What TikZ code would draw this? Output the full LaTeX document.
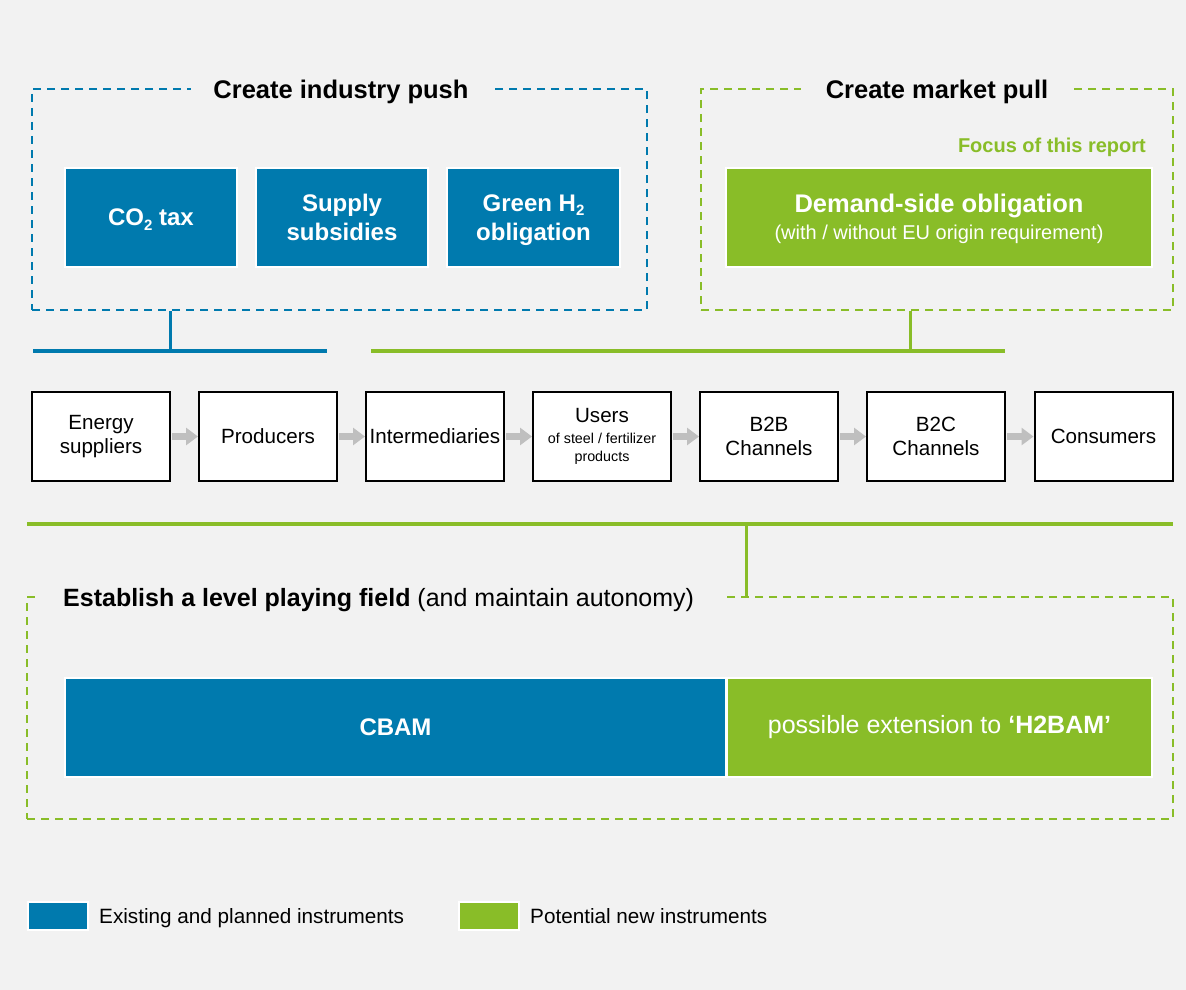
\documentclass[tikz,border=0pt]{standalone}
\usepackage{fontspec}
\setmainfont{Liberation Sans}
\usetikzlibrary{arrows.meta}
\definecolor{bg}{HTML}{F2F2F2}
\definecolor{cblue}{HTML}{007AAE}
\definecolor{cgreen}{HTML}{89BD28}
\definecolor{cgray}{HTML}{BFBFBF}
\newcommand\fsz[2]{\fontsize{#1}{#2}\selectfont}
\newcommand\lowsub[1]{\raisebox{-0.35ex}{\fsz{15}{15}#1}}
\newcommand\dropby[2]{\raisebox{-#1}[\height][\depth]{\begin{tabular}{@{}c@{}}#2\end{tabular}}}
\begin{document}
\begin{tikzpicture}[x=1pt,y=-1pt,
  instr/.style={draw=white, line width=2pt, minimum height=99pt, inner sep=0pt,
    align=center, text=white, font=\bfseries\fsz{24}{29}},
  bluebox/.style={instr, fill=cblue},
  greenbox/.style={instr, fill=cgreen},
  dashbox/.style={dashed, dash pattern=on 8pt off 6pt, line width=1.6pt, inner sep=0pt},
  title/.style={fill=bg, inner ysep=2pt, font=\bfseries\fsz{25.5}{29}},
  chainbox/.style={draw=black, fill=white, line width=2pt, minimum width=138pt,
    minimum height=89pt, inner sep=0pt, align=center, font=\fsz{20.6}{24.5}},
  flow/.style={cgray, line width=7pt, -{Triangle[length=12pt,width=17pt]}, shorten <=1pt},
  bar/.style={line width=4pt},
  stem/.style={line width=3pt},
  legbox/.style={draw=white, line width=2pt, minimum width=60pt, minimum height=28pt, inner sep=0pt},
  legtext/.style={anchor=base west, inner sep=0pt, font=\fsz{20.7}{24}}]
\fill[bg] (0,0) rectangle (1186,990);
\useasboundingbox (0,0) rectangle (1186,990);

% dashed groups
\node[dashbox, draw=cblue, minimum width=615pt, minimum height=221pt] (push) at (339.5,199.5) {};
\node[title, inner xsep=22pt] (pushT) at (341,91.5) {Create industry push};
\node[dashbox, draw=cgreen, minimum width=472pt, minimum height=221pt] (pull) at (937,199.5) {};
\node[title, inner xsep=25pt] (pullT) at (937,91.5) {Create market pull};
\node[dashbox, draw=cgreen, minimum width=1146pt, minimum height=222pt] (level) at (600,708) {};
\node[fill=bg, anchor=west, inner xsep=28pt, inner ysep=2pt, font=\fsz{25}{29}] (levelT) at (35,600)
  {\textbf{Establish a level playing field} (and maintain autonomy)};

% instruments
\node[bluebox, minimum width=172pt] (co2) at (151,217.5) {\dropby{2.5pt}{CO\lowsub{2} tax}};
\node[bluebox, minimum width=172pt] (subs) at (342,217.5) {\dropby{2.5pt}{Supply\\subsidies}};
\node[bluebox, minimum width=173pt] (gh2) at (533.5,217.5) {\dropby{2.5pt}{Green H\lowsub{2}\\obligation}};
\node[anchor=east, inner sep=0pt, text=cgreen, font=\bfseries\fsz{20}{24}] (focus) at (1146,147) {Focus of this report};
\node[greenbox, minimum width=426pt] (dso) at (939,217.5)
  {\dropby{2.5pt}{\fsz{25.5}{29}Demand-side obligation\\[-2pt]{\mdseries\fsz{20}{22}(with / without EU origin requirement)}}};
\node[bluebox, minimum width=661pt] (cbam) at (395.5,727.5) {CBAM};
\node[greenbox, minimum width=425pt, font=\fsz{25}{29}] (h2bam) at (939.5,727.5)
  {possible extension to \textbf{‘H2BAM’}};

% value chain
\node[chainbox] (c1) at (101,436.5) {Energy\\suppliers};
\node[chainbox] (c2) at (268,436.5) {Producers};
\node[chainbox] (c3) at (435,436.5) {Intermediaries};
\node[chainbox] (c4) at (602,436.5) {Users\\[-4pt]{\fsz{14.3}{17}of steel / fertilizer}\\[-6pt]{\fsz{14.3}{17}products}};
\node[chainbox] (c5) at (769,436.5) {B2B\\Channels};
\node[chainbox] (c6) at (936,436.5) {B2C\\Channels};
\node[chainbox] (c7) at (1103.5,436.5) {Consumers};
\foreach \a/\b in {c1/c2,c2/c3,c3/c4,c4/c5,c5/c6,c6/c7}
  \draw[flow] (\a.east) -- (\b.west);

% connectors / bars
\coordinate (bl) at (33,351);
\coordinate (br) at (327,351);
\coordinate (bj) at (170,351);
\draw[bar, cblue] (bl) -- (br);
\draw[stem, cblue] (push.south -| bj) -- (bj);
\coordinate (gl) at (371,351);
\coordinate (gr) at (1005,351);
\coordinate (gj) at (910,351);
\draw[bar, cgreen] (gl) -- (gr);
\draw[stem, cgreen] (pull.south -| gj) -- (gj);
\coordinate (ll) at (27,524);
\coordinate (lr) at (1173,524);
\coordinate (lj) at (746,524);
\draw[bar, cgreen] (ll) -- (lr);
\draw[stem, cgreen] (lj) -- (level.north -| lj);

% legend
\node[legbox, fill=cblue] (legB) at (58,916) {};
\node[legtext] (legBT) at (99,923) {Existing and planned instruments};
\node[legbox, fill=cgreen] (legG) at (489,916) {};
\node[legtext] (legGT) at (530,923) {Potential new instruments};
\end{tikzpicture}
\end{document}
